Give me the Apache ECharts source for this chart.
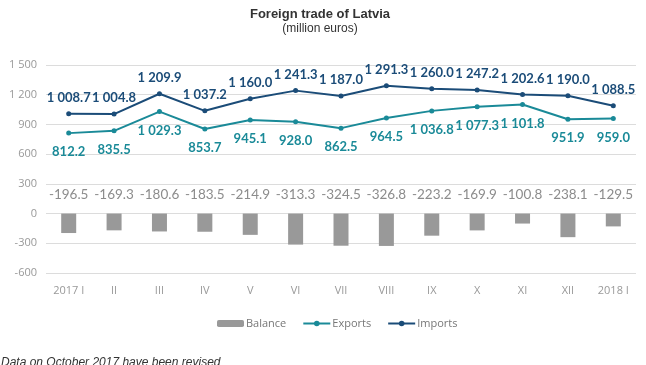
<!DOCTYPE html>
<html><head><meta charset="utf-8">
<script src="https://cdn.jsdelivr.net/npm/echarts@6/dist/echarts.min.js"></script>
<style>html,body{margin:0;padding:0;background:#fff}#c{width:646px;height:365px}</style>
</head><body><div id="c"></div>
<script>
var categories = ['2017 I','II','III','IV','V','VI','VII','VIII','IX','X','XI','XII','2018 I'];
var balance = [-196.5,-169.3,-180.6,-183.5,-214.9,-313.3,-324.5,-326.8,-223.2,-169.9,-100.8,-238.1,-129.5];
var exportsData = [812.2,835.5,1029.3,853.7,945.1,928.0,862.5,964.5,1036.8,1077.3,1101.8,951.9,959.0];
var importsData = [1008.7,1004.8,1209.9,1037.2,1160.0,1241.3,1187.0,1291.3,1260.0,1247.2,1202.6,1190.0,1088.5];
var yMin = -600, yMax = 1500, yStep = 300;

function fmt(v, dec){
  var neg = v < 0; var s = Math.abs(v).toFixed(dec);
  var parts = s.split('.');
  var ip = parts[0].replace(/\B(?=(\d{3})+(?!\d))/g, ' ');
  return (neg ? '-' : '') + ip + (parts[1] ? '.' + parts[1] : '');
}
var FONT = 'Lato, "Open Sans", sans-serif';
var chart = echarts.init(document.getElementById('c'));
chart.setOption({
  animation: false,
  title: {
    text: 'Foreign trade of Latvia', subtext: '(million euros)',
    left: 315, textAlign: 'center', top: 3, itemGap: 2,
    textStyle: {fontFamily: 'Liberation Sans Narrow, Arial, sans-serif', fontSize: 13, fontWeight: 'bold', color: '#333'},
    subtextStyle: {fontFamily: 'Liberation Sans Narrow, Arial, sans-serif', fontSize: 12, color: '#333'}
  },
  legend: {
    data: ['Balance','Exports','Imports'], top: 313, left: 212, itemGap: 16,
    itemWidth: 27, itemHeight: 7,
    textStyle: {fontFamily: '"Open Sans", sans-serif', fontSize: 11, color: '#777', padding: [0,0,0,-3]}
  },
  graphic: [{type: 'text', left: 1, top: 357, style: {text: 'Data on October 2017 have been revised', fontFamily: 'Liberation Sans, Arial, sans-serif', fontStyle: 'italic', fontSize: 12, fill: '#333'}}],
  grid: {left: 46, right: 10, top: 65, bottom: 92},
  xAxis: {
    type: 'category', data: categories,
    axisLine: {show: false}, axisTick: {show: false},
    axisLabel: {fontFamily: '"Open Sans", sans-serif', fontSize: 11, color: '#999', margin: 12}
  },
  yAxis: {
    type: 'value', min: yMin, max: yMax, interval: yStep,
    axisLine: {show: false}, axisTick: {show: false},
    splitLine: {lineStyle: {color: '#dcdcdc', width: 1}},
    axisLabel: {fontFamily: '"Open Sans", sans-serif', fontSize: 11, color: '#999', margin: 9, formatter: function(v){return fmt(v,0);}}
  },
  series: [
    {name: 'Balance', type: 'bar', data: balance, barWidth: 15, itemStyle: {color: '#999999'},
     label: {show: true, position: 'top', distance: 12, fontFamily: FONT, fontSize: 13.5, color: '#8c8c8c', formatter: function(p){return fmt(p.value,1);}}},
    {name: 'Exports', type: 'line', data: exportsData, symbol: 'circle', symbolSize: 5,
     itemStyle: {color: '#1a8a98'}, lineStyle: {color: '#1a8a98', width: 2},
     label: {show: true, position: 'bottom', distance: 10, fontFamily: FONT, fontSize: 13, fontWeight: 'bold', color: '#1a8a98', formatter: function(p){return fmt(p.value,1);}}},
    {name: 'Imports', type: 'line', data: importsData, symbol: 'circle', symbolSize: 5,
     itemStyle: {color: '#1b4c78'}, lineStyle: {color: '#1b4c78', width: 2},
     label: {show: true, position: 'top', distance: 7, fontFamily: FONT, fontSize: 13, fontWeight: 'bold', color: '#1b4c78', formatter: function(p){return fmt(p.value,1);}}}
  ]
});
</script></body></html>
